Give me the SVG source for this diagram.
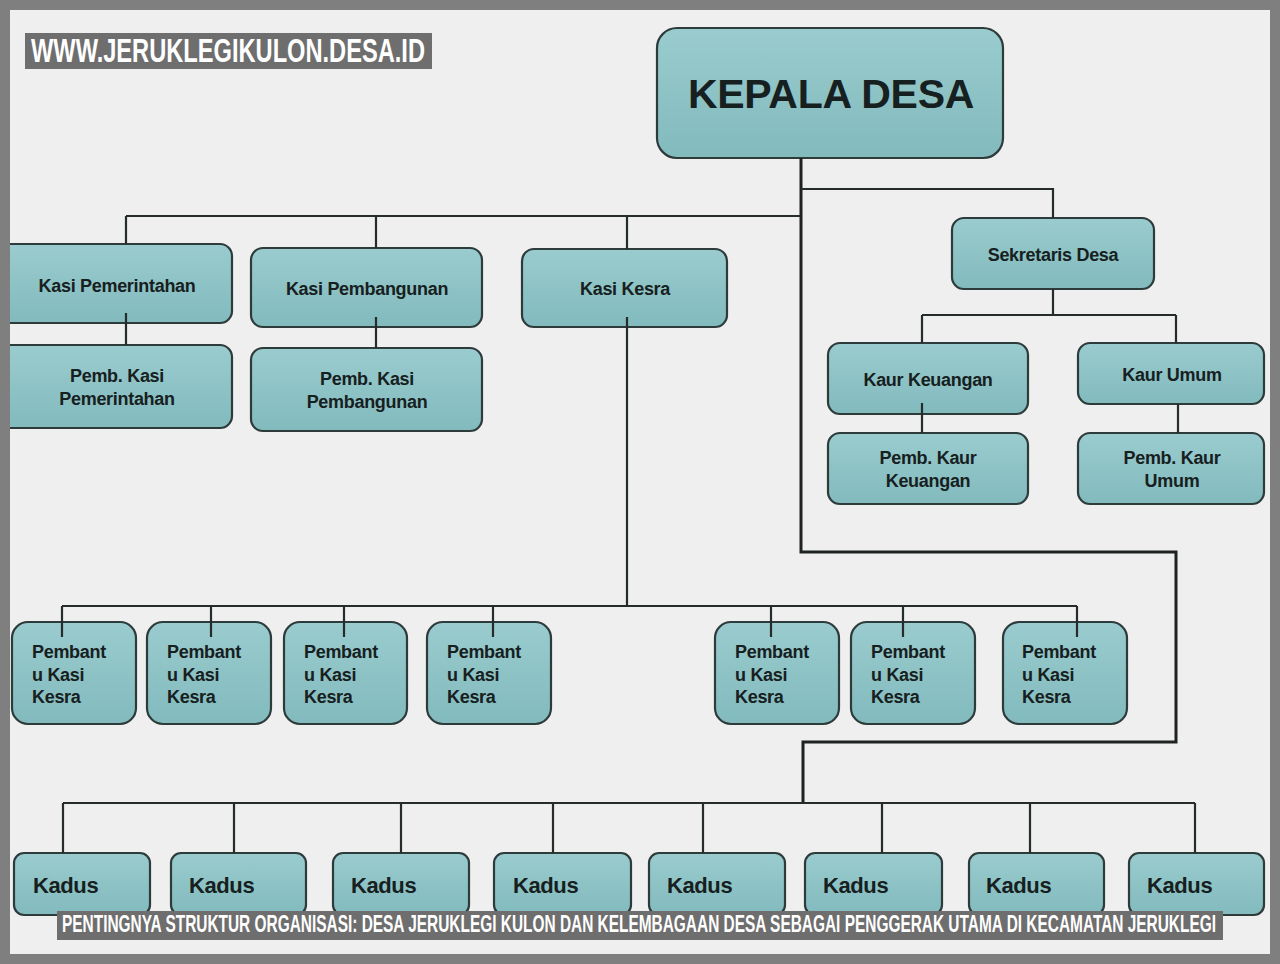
<svg xmlns="http://www.w3.org/2000/svg" width="1280" height="964" viewBox="0 0 1280 964">
<defs>
<linearGradient id="g" x1="0" y1="0" x2="0" y2="1">
<stop offset="0" stop-color="#9acccf"/>
<stop offset="1" stop-color="#82babd"/>
</linearGradient>
</defs>
<style>
.b{fill:url(#g);stroke:#2e3b3b;stroke-width:2.2}
.t{font-family:"Liberation Sans",Arial,sans-serif;font-weight:bold;font-size:18px;fill:#172020;text-anchor:middle;letter-spacing:-0.3px}
.l{text-anchor:start}
.k{font-size:22px;text-anchor:start;letter-spacing:-0.4px}
.c{fill:none;stroke:#262b2b;stroke-width:2.2}
.m{fill:none;stroke:#1e2222;stroke-width:3}
.w{font-family:"Liberation Sans",Arial,sans-serif;font-weight:bold;fill:#ffffff}
</style>
<rect x="0" y="0" width="1280" height="964" fill="#efefef"/>

<g id="kepala-desa"><rect class="b" x="657" y="28" width="346" height="130" rx="20"/><text class="t" x="831" y="108" style="font-size:41px;letter-spacing:-0.3px">KEPALA DESA</text></g>

<g id="kasi-pemerintahan"><rect class="b" x="-10" y="244" width="242" height="79" rx="12"/><text class="t" x="117" y="292">Kasi Pemerintahan</text></g>
<g id="pemb-kasi-pemerintahan"><rect class="b" x="-10" y="345" width="242" height="83" rx="12"/><text class="t" x="117" y="382">Pemb. Kasi</text><text class="t" x="117" y="405">Pemerintahan</text></g>
<g id="kasi-pembangunan"><rect class="b" x="251" y="248" width="231" height="79" rx="12"/><text class="t" x="367" y="295">Kasi Pembangunan</text></g>
<g id="pemb-kasi-pembangunan"><rect class="b" x="251" y="348" width="231" height="83" rx="12"/><text class="t" x="367" y="385">Pemb. Kasi</text><text class="t" x="367" y="408">Pembangunan</text></g>
<g id="kasi-kesra"><rect class="b" x="522" y="249" width="205" height="78" rx="12"/><text class="t" x="625" y="295">Kasi Kesra</text></g>

<g id="sekretaris-desa"><rect class="b" x="952" y="218" width="202" height="71" rx="12"/><text class="t" x="1053" y="261">Sekretaris Desa</text></g>
<g id="kaur-keuangan"><rect class="b" x="828" y="343" width="200" height="71" rx="12"/><text class="t" x="928" y="386">Kaur Keuangan</text></g>
<g id="kaur-umum"><rect class="b" x="1078" y="343" width="186" height="61" rx="12"/><text class="t" x="1172" y="381">Kaur Umum</text></g>
<g id="pemb-kaur-keuangan"><rect class="b" x="828" y="433" width="200" height="71" rx="12"/><text class="t" x="928" y="464">Pemb. Kaur</text><text class="t" x="928" y="487">Keuangan</text></g>
<g id="pemb-kaur-umum"><rect class="b" x="1078" y="433" width="186" height="71" rx="12"/><text class="t" x="1172" y="464">Pemb. Kaur</text><text class="t" x="1172" y="487">Umum</text></g>

<g id="pembantu-1"><rect class="b" x="12" y="622" width="124" height="102" rx="16"/><text class="t l" x="32" y="658">Pembant</text><text class="t l" x="32" y="681">u Kasi</text><text class="t l" x="32" y="703">Kesra</text></g>
<g id="pembantu-2"><rect class="b" x="147" y="622" width="124" height="102" rx="16"/><text class="t l" x="167" y="658">Pembant</text><text class="t l" x="167" y="681">u Kasi</text><text class="t l" x="167" y="703">Kesra</text></g>
<g id="pembantu-3"><rect class="b" x="284" y="622" width="123" height="102" rx="16"/><text class="t l" x="304" y="658">Pembant</text><text class="t l" x="304" y="681">u Kasi</text><text class="t l" x="304" y="703">Kesra</text></g>
<g id="pembantu-4"><rect class="b" x="427" y="622" width="124" height="102" rx="16"/><text class="t l" x="447" y="658">Pembant</text><text class="t l" x="447" y="681">u Kasi</text><text class="t l" x="447" y="703">Kesra</text></g>
<g id="pembantu-5"><rect class="b" x="715" y="622" width="124" height="102" rx="16"/><text class="t l" x="735" y="658">Pembant</text><text class="t l" x="735" y="681">u Kasi</text><text class="t l" x="735" y="703">Kesra</text></g>
<g id="pembantu-6"><rect class="b" x="851" y="622" width="124" height="102" rx="16"/><text class="t l" x="871" y="658">Pembant</text><text class="t l" x="871" y="681">u Kasi</text><text class="t l" x="871" y="703">Kesra</text></g>
<g id="pembantu-7"><rect class="b" x="1003" y="622" width="124" height="102" rx="16"/><text class="t l" x="1022" y="658">Pembant</text><text class="t l" x="1022" y="681">u Kasi</text><text class="t l" x="1022" y="703">Kesra</text></g>

<g id="kadus-1"><rect class="b" x="14" y="853" width="136" height="62" rx="10"/><text class="t k" x="33" y="893">Kadus</text></g>
<g id="kadus-2"><rect class="b" x="171" y="853" width="135" height="62" rx="10"/><text class="t k" x="189" y="893">Kadus</text></g>
<g id="kadus-3"><rect class="b" x="333" y="853" width="136" height="62" rx="10"/><text class="t k" x="351" y="893">Kadus</text></g>
<g id="kadus-4"><rect class="b" x="494" y="853" width="137" height="62" rx="10"/><text class="t k" x="513" y="893">Kadus</text></g>
<g id="kadus-5"><rect class="b" x="649" y="853" width="136" height="62" rx="10"/><text class="t k" x="667" y="893">Kadus</text></g>
<g id="kadus-6"><rect class="b" x="805" y="853" width="137" height="62" rx="10"/><text class="t k" x="823" y="893">Kadus</text></g>
<g id="kadus-7"><rect class="b" x="969" y="853" width="135" height="62" rx="10"/><text class="t k" x="986" y="893">Kadus</text></g>
<g id="kadus-8"><rect class="b" x="1129" y="853" width="135" height="62" rx="10"/><text class="t k" x="1147" y="893">Kadus</text></g>

<g id="connectors">
<path class="m" d="M801 158 V552 H1176 V742 H803 V803"/>
<path class="c" d="M126 216 H801 M126 216 V244 M376 216 V248 M627 216 V249"/>
<path class="c" d="M801 189 H1053 V218"/>
<path class="c" d="M1053 289 V315 M922 315 H1176 M922 315 V343 M1176 315 V343"/>
<path class="c" d="M922 403 V433 M1178 404 V433"/>
<path class="c" d="M126 313 V345 M376 317 V348"/>
<path class="c" d="M627 317 V606"/>
<path class="c" d="M62 606 H1077 M62 606 V637 M211 606 V637 M344 606 V637 M493 606 V637 M771 606 V637 M903 606 V637 M1077 606 V637"/>
<path class="c" d="M63 803 H1195 M63 803 V853 M234 803 V853 M401 803 V853 M553 803 V853 M703 803 V853 M882 803 V853 M1030 803 V853 M1195 803 V853"/>
</g>

<path d="M0 0 H1280 V964 H0 Z M10 10 V954 H1270 V10 Z" fill="#7f7f7f" fill-rule="evenodd"/>

<rect x="25" y="33" width="407" height="36" fill="#6e6e6e"/>
<text class="w" x="31" y="62" font-size="33" textLength="394" lengthAdjust="spacingAndGlyphs">WWW.JERUKLEGIKULON.DESA.ID</text>

<rect x="57" y="911" width="1166" height="29" fill="#6e6e6e"/>
<text class="w" x="62" y="932" font-size="23" textLength="1154" lengthAdjust="spacingAndGlyphs">PENTINGNYA STRUKTUR ORGANISASI: DESA JERUKLEGI KULON DAN KELEMBAGAAN DESA SEBAGAI PENGGERAK UTAMA DI KECAMATAN JERUKLEGI</text>
</svg>
